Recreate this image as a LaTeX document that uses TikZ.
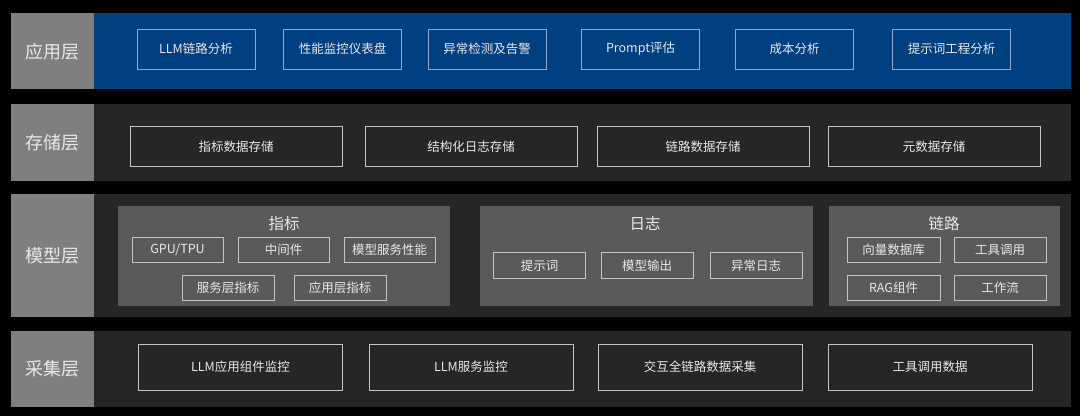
\documentclass[tikz,border=0pt]{standalone}
\usepackage{fontspec}
\setmainfont{Noto Sans CJK SC}
\usetikzlibrary{positioning}

\definecolor{appblue}{HTML}{003F80}
\definecolor{bandgray}{HTML}{262626}
\definecolor{namegray}{HTML}{7F7F7F}
\definecolor{panelgray}{HTML}{5A5A5A}
\definecolor{boxline}{HTML}{C4C4C4}
\definecolor{blueline}{HTML}{8EA7CC}
\definecolor{textwhite}{HTML}{E8E8E8}

\begin{document}
\begin{tikzpicture}[x=1pt,y=-1pt,
  band/.style={fill=#1, inner sep=0pt, anchor=north west, minimum width=1060pt},
  layername/.style={fill=namegray, inner sep=0pt, anchor=north west, minimum width=83pt,
    text=textwhite, font=\fontsize{18}{20}\selectfont},
  itembox/.style={draw=#1, line width=1pt, inner sep=0pt, text=textwhite,
    font=\fontsize{12.5}{14}\selectfont},
  panel/.style={fill=panelgray, inner sep=0pt, anchor=north west, minimum height=100pt},
  paneltitle/.style={inner sep=0pt, text=textwhite, font=\fontsize{15.5}{17}\selectfont}]

  % Background
  \fill[black] (0,0) rectangle (1080,416);

  % Layers
  \foreach \lyr/\fillc/\ytop/\h/\txt in {app/appblue/13/76/应用层, store/bandgray/104/77/存储层,
      model/bandgray/194/123/模型层, collect/bandgray/331/76/采集层} {
    \node[band=\fillc, minimum height=\h pt] (\lyr) at (11,\ytop) {};
    \node[layername, minimum height=\h pt] (\lyr-name) at (11,\ytop) {\txt};
  }

  % Application layer
  \foreach \cx/\txt [count=\i] in {196/LLM链路分析, 342.5/性能监控仪表盘, 487/异常检测及告警,
      640.5/Prompt评估, 794.5/成本分析, 951.5/提示词工程分析}
    \node[itembox=blueline, minimum width=118pt, minimum height=40pt] (app\i) at (\cx,49) {\txt};

  % Storage layer
  \foreach \cx/\txt [count=\i] in {236/指标数据存储, 471/结构化日志存储, 703/链路数据存储, 934/元数据存储}
    \node[itembox=boxline, minimum width=212pt, minimum height=40pt] (store\i) at (\cx,146.5) {\txt};

  % Model layer: metrics
  \node[panel, minimum width=332pt] (metrics) at (118,206) {};
  \node[paneltitle] (metrics-title) at (284,224) {指标};
  \node[itembox=boxline, minimum width=91pt, minimum height=25pt] (gpu) at (177.5,249.5) {GPU/TPU};
  \node[itembox=boxline, minimum width=91pt, minimum height=25pt] (middleware) at (283.5,249.5) {中间件};
  \node[itembox=boxline, minimum width=91pt, minimum height=25pt] (serving) at (389.5,249.5) {模型服务性能};
  \node[itembox=boxline, minimum width=92pt, minimum height=25pt] (svcmetric) at (228,287.5) {服务层指标};
  \node[itembox=boxline, minimum width=92pt, minimum height=25pt] (appmetric) at (340,287.5) {应用层指标};

  % Model layer: logs
  \node[panel, minimum width=333pt] (logs) at (480,206) {};
  \node[paneltitle] (logs-title) at (645,224) {日志};
  \foreach \cx/\txt [count=\i] in {539.5/提示词, 647/模型输出, 756/异常日志}
    \node[itembox=boxline, minimum width=92pt, minimum height=26pt] (log\i) at (\cx,265.5) {\txt};

  % Model layer: traces
  \node[panel, minimum width=231pt] (traces) at (829,206) {};
  \node[paneltitle] (traces-title) at (944,224) {链路};
  \node[itembox=boxline, minimum width=93pt, minimum height=25pt] (vectordb) at (893.5,249.5) {向量数据库};
  \node[itembox=boxline, minimum width=92pt, minimum height=25pt] (toolcall) at (1000,249.5) {工具调用};
  \node[itembox=boxline, minimum width=93pt, minimum height=25pt] (rag) at (893.5,287.5) {RAG组件};
  \node[itembox=boxline, minimum width=92pt, minimum height=25pt] (workflow) at (1000,287.5) {工作流};

  % Collection layer
  \foreach \cx/\txt [count=\i] in {240.5/LLM应用组件监控, 471/LLM服务监控, 700/交互全链路数据采集, 930/工具调用数据}
    \node[itembox=boxline, minimum width=204pt, minimum height=46pt] (collect\i) at (\cx,367) {\txt};
\end{tikzpicture}
\end{document}
